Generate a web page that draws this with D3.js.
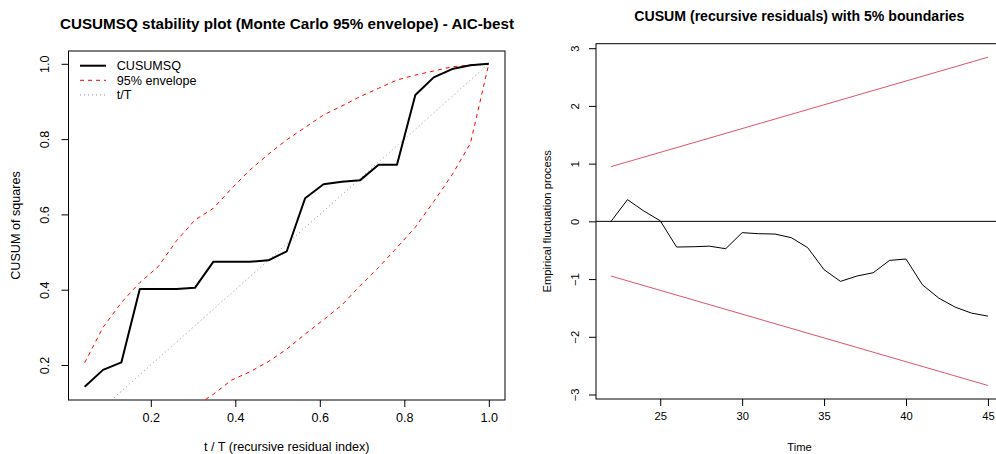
<!DOCTYPE html>
<html>
  <head>
    <meta charset="utf-8">
    <title>CUSUMSQ and CUSUM stability plots</title>
    <script src="https://d3js.org/d3.v7.min.js"></script>
    <style>
      body { margin: 0; background: #fff; }
      text { font-family: "Liberation Sans", Arial, Helvetica, sans-serif; fill: #000; }
      .title { font-weight: bold; }
    </style>
  </head>
  <body>

  <div id="chart"></div>

  <script>

  // left panel: CUSUMSQ with Monte Carlo envelope, t/T = k/23
  var tT = d3.range(1, 24).map(function(k_){ return k_ / 23; });
  var cusumsq = [0.142, 0.187, 0.207, 0.402, 0.402, 0.402, 0.405, 0.474, 0.474, 0.474, 0.478, 0.502,
                 0.643, 0.680, 0.687, 0.691, 0.732, 0.732, 0.917, 0.964, 0.986, 0.996, 1.000];
  var envUpper = [0.206, 0.300, 0.366, 0.419, 0.461, 0.530, 0.585, 0.616, 0.669, 0.718, 0.760, 0.798,
                  0.831, 0.864, 0.888, 0.913, 0.935, 0.957, 0.970, 0.981, 0.992, 0.997, 1.000];
  var envLower = [0.005, 0.012, 0.022, 0.035, 0.050, 0.068, 0.090, 0.122, 0.160, 0.182, 0.209, 0.242,
                  0.282, 0.320, 0.359, 0.411, 0.459, 0.512, 0.566, 0.634, 0.705, 0.789, 1.000];
  var leftXTicks = [0.2, 0.4, 0.6, 0.8, 1.0];
  var leftYTicks = [0.2, 0.4, 0.6, 0.8, 1.0];
  var legendItems = ["CUSUMSQ", "95% envelope", "t/T"];

  // right panel: CUSUM of recursive residuals, 22..45
  var time = d3.range(22, 46);
  var cusum = [0, 0.376, 0.179, 0.01, -0.445, -0.44, -0.43, -0.474, -0.196, -0.214, -0.22, -0.283,
               -0.456, -0.838, -1.04, -0.948, -0.89, -0.676, -0.653, -1.098, -1.33, -1.486, -1.59, -1.642];
  var boundStart = 0.948, boundEnd = 2.844;
  var rightXTicks = [25, 30, 35, 40, 45];
  var rightYTicks = [-3, -2, -1, 0, 1, 2, 3];

  var width = 996, height = 454;

  var svg = d3.select("#chart").append("svg")
            .attr("width", width)
            .attr("height", height);

  var defs = svg.append("defs");

  function panel(opt_){

      var g = svg.append("g").attr("font-size", opt_.fs + "px");
      var x = d3.scaleLinear().domain(opt_.xd).range([opt_.l, opt_.r]);
      var y = d3.scaleLinear().domain(opt_.yd).range([opt_.b, opt_.t]);

      defs.append("clipPath")
          .attr("id", opt_.id)
          .append("rect")
          .attr("x", opt_.l).attr("y", opt_.t)
          .attr("width", opt_.r - opt_.l).attr("height", opt_.b - opt_.t);

      g.append("g")
          .attr("transform", "translate(0," + opt_.b + ")")
          .call(d3.axisBottom(x).tickValues(opt_.xt).tickSize(7).tickPadding(6).tickFormat(opt_.xf))
          .call(function(a_){
              a_.select(".domain").remove();
              a_.attr("font-family", null).attr("font-size", null);
          });

      var ya = g.append("g")
          .attr("transform", "translate(" + opt_.l + ",0)")
          .call(d3.axisLeft(y).tickValues(opt_.yt).tickSize(7).tickFormat(opt_.yf));
      ya.select(".domain").remove();
      ya.attr("font-family", null).attr("font-size", null);
      ya.selectAll(".tick text")
          .attr("x", null)
          .attr("text-anchor", "middle")
          .attr("transform", "translate(" + (opt_.ylx - opt_.l) + ",0) rotate(-90)")
          .attr("dy", "0.35em");

      g.append("rect")
          .attr("x", opt_.l).attr("y", opt_.t)
          .attr("width", opt_.r - opt_.l).attr("height", opt_.b - opt_.t)
          .attr("fill", "none").attr("stroke", "#000").attr("stroke-width", 1);

      g.append("text")
          .attr("class", "title")
          .attr("x", opt_.tx)
          .attr("y", opt_.ty)
          .attr("font-size", opt_.tfs + "px")
          .attr("textLength", opt_.tlen)
          .attr("lengthAdjust", "spacingAndGlyphs")
          .text(opt_.title);

      g.append("text")
          .attr("x", (opt_.l + opt_.r) / 2)
          .attr("y", 451)
          .attr("text-anchor", "middle")
          .text(opt_.xlab);

      g.append("text")
          .attr("transform", "translate(" + opt_.ytx + "," + ((opt_.t + opt_.b) / 2) + ") rotate(-90)")
          .attr("text-anchor", "middle")
          .text(opt_.ylab);

      var plot = g.append("g").attr("clip-path", "url(#" + opt_.id + ")");

      return { x: x, y: y, plot: plot, g: g };
  }

  // ---- left
  var L = panel({
      id: "clipL", l: 68.5, r: 505, t: 51, b: 400, fs: 12.6,
      xd: [0.0052, 1.0383], yd: [0.107, 1.034],
      xt: leftXTicks, yt: leftYTicks, xf: d3.format(".1f"), yf: d3.format(".1f"),
      ylx: 45, ytx: 19.5, tx: 60, ty: 29, tfs: 15.3, tlen: 454,
      title: "CUSUMSQ stability plot (Monte Carlo 95% envelope) - AIC-best",
      xlab: "t / T (recursive residual index)", ylab: "CUSUM of squares"
  });

  var lineL = function(vals_){
      return d3.line().x(function(d_, i_){ return L.x(tT[i_]); }).y(function(d_){ return L.y(d_); })(vals_);
  };

  L.plot.append("path")
      .attr("d", d3.line().x(function(d_){ return L.x(d_); }).y(function(d_){ return L.y(d_); })([0, 1]))
      .attr("fill", "none").attr("stroke", "#8c8c8c").attr("stroke-width", 1).attr("stroke-dasharray", "1,3");

  [envUpper, envLower].forEach(function(e_){
      L.plot.append("path")
          .attr("d", lineL(e_))
          .attr("fill", "none").attr("stroke", "#ff0000").attr("stroke-width", 1).attr("stroke-dasharray", "4,4");
  });

  L.plot.append("path")
      .attr("d", lineL(cusumsq))
      .attr("fill", "none").attr("stroke", "#000").attr("stroke-width", 2).attr("stroke-linejoin", "round");

  var leg = L.g.append("g").selectAll(".leg")
      .data(legendItems)
      .enter()
      .append("g")
      .attr("transform", function(d_, i_){ return "translate(80," + (65.7 + 14.6 * i_) + ")"; });

  leg.append("line")
      .attr("x1", 0).attr("x2", 26)
      .attr("stroke", function(d_, i_){ return ["#000", "#ff0000", "#8c8c8c"][i_]; })
      .attr("stroke-width", function(d_, i_){ return i_ === 0 ? 2 : 1; })
      .attr("stroke-dasharray", function(d_, i_){ return ["none", "4,4", "1,3"][i_]; });

  leg.append("text")
      .attr("x", 36.7)
      .attr("dy", "0.35em")
      .text(function(d_){ return d_; });

  // ---- right
  var R = panel({
      id: "clipR", l: 596, r: 1003, t: 43.7, b: 399, fs: 11.2,
      xd: [21.08, 45.92], yd: [-3.078, 3.078],
      xt: rightXTicks, yt: rightYTicks, xf: d3.format("d"), yf: d3.format("d"),
      ylx: 575, ytx: 551, tx: 634.3, ty: 21, tfs: 14, tlen: 330,
      title: "CUSUM (recursive residuals) with 5% boundaries",
      xlab: "Time", ylab: "Empirical fluctuation process"
  });

  R.plot.append("line")
      .attr("x1", R.x(21.08)).attr("x2", R.x(45.92))
      .attr("y1", R.y(0)).attr("y2", R.y(0))
      .attr("stroke", "#000").attr("stroke-width", 1);

  [1, -1].forEach(function(s_){
      R.plot.append("line")
          .attr("x1", R.x(time[0])).attr("x2", R.x(time[time.length - 1]))
          .attr("y1", R.y(s_ * boundStart)).attr("y2", R.y(s_ * boundEnd))
          .attr("stroke", "#df536b").attr("stroke-width", 1);
  });

  R.plot.append("path")
      .attr("d", d3.line().x(function(d_, i_){ return R.x(time[i_]); }).y(function(d_){ return R.y(d_); })(cusum))
      .attr("fill", "none").attr("stroke", "#000").attr("stroke-width", 1);

  </script>

  </body>
</html>
